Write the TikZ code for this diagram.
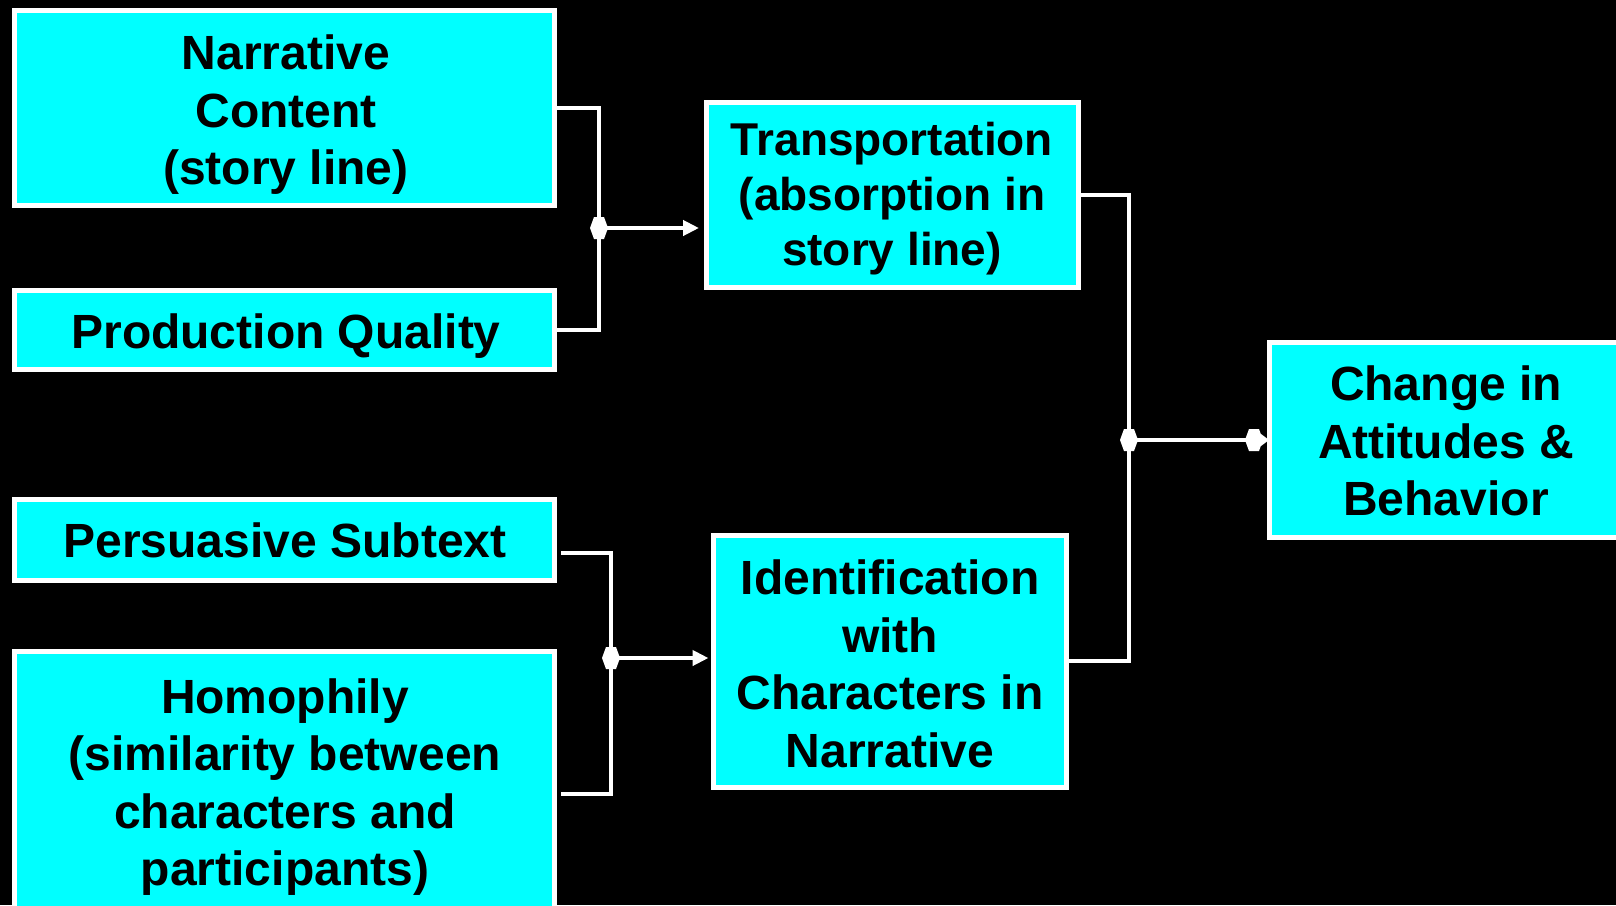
\documentclass[tikz,border=0pt]{standalone}
\usepackage{fontspec}
\setmainfont{Liberation Sans}
\usetikzlibrary{arrows.meta,calc}
\definecolor{boxcyan}{HTML}{00FFFF}
\begin{document}
\begin{tikzpicture}[x=1pt,y=-1pt,
  box/.style={draw=white,fill=boxcyan,line width=5pt,inner sep=0pt,outer sep=0pt},
  boxtext/.style={align=center,text=black,inner sep=0pt,
    font=\fontsize{48}{57.5}\selectfont\bfseries},
  smalltext/.style={boxtext,font=\fontsize{46}{55}\selectfont\bfseries},
  link/.style={draw=white,line width=4pt},
  arrowlink/.style={link,-{Triangle[length=16pt,width=15pt]}},
  hexdot/.pic={\fill[white] (-9,0) -- (-5,-11) -- (5,-11) -- (9,0) -- (5,11) -- (-5,11) -- cycle;}]
  % canvas
  \fill[black] (0,0) rectangle (1616,905);
  \useasboundingbox (0,0) rectangle (1616,905);
  \begin{scope}
  \clip (0,0) rectangle (1616,905);
  % source boxes
  \node[box,minimum width=540pt,minimum height=195pt,
    label={[boxtext,xshift=2pt,yshift=-7pt]center:Narrative\\Content\\(story line)}] (narr) at (284,108) {};
  \node[box,minimum width=540pt,minimum height=79pt,
    label={[boxtext,xshift=2pt,yshift=-6pt]center:Production Quality}] (prod) at (284,330) {};
  \node[box,minimum width=540pt,minimum height=81pt,
    label={[boxtext,xshift=1pt]center:Persuasive Subtext}] (pers) at (284,540) {};
  \node[box,minimum width=540pt,minimum height=264pt,
    label={[boxtext,xshift=1pt,yshift=-4pt]center:Homophily\\(similarity between\\characters and\\participants)}] (homo) at (284,783) {};
  % mediators
  \node[box,minimum width=372pt,minimum height=185pt,
    label={[smalltext,yshift=-4pt]center:Transportation\\(absorption in\\story line)}] (trans) at (892,195) {};
  \node[box,minimum width=353pt,minimum height=252pt,
    label={[boxtext,yshift=-3pt]center:Identification\\with\\Characters in\\Narrative}] (ident) at (890,661) {};
  % outcome
  \node[box,minimum width=354pt,minimum height=195pt,
    label={[boxtext,yshift=-1pt]center:Change in\\Attitudes \&\\Behavior}] (change) at (1446,440) {};
  \end{scope}
  % junction points
  \coordinate (j1) at (599,228);
  \coordinate (j2) at (611,658);
  \coordinate (j3) at (1129,440);
  % narrative content + production quality -> transportation
  \draw[link] (narr.east) -| (j1) |- (prod.east);
  \draw[arrowlink] (j1) -- ($(trans.west |- j1)+(-7,0)$);
  \pic at (j1) {hexdot};
  % persuasive subtext + homophily -> identification
  \draw[link] ($(pers.east)+(7,13)$) -| (j2) |- ($(homo.east)+(7,11)$);
  \draw[arrowlink] (j2) -- ($(ident.west |- j2)+(-5,0)$);
  \pic at (j2) {hexdot};
  % transportation + identification -> change
  \draw[link] (trans.east) -| (j3) |- (ident.east);
  \coordinate (endc) at ($(change.west)+(-15,0)$);
  \draw[link] (j3) -- (endc);
  \pic at (j3) {hexdot};
  \pic at (endc) {hexdot};
  \fill[white] ($(endc)+(7,-6)$) -- (change.west) -- ($(endc)+(7,6)$) -- cycle;
\end{tikzpicture}
\end{document}
